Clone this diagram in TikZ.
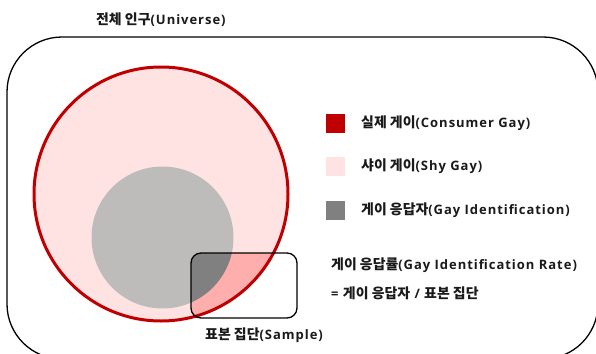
\documentclass[tikz,border=0pt]{standalone}
\usepackage{fontspec}
\setmainfont{Open Sans}[LetterSpace=7.5]
\newfontfamily\kr{Noto Sans CJK KR}[Scale=1.07]
\definecolor{cred}{HTML}{C00000}
\definecolor{cpink}{HTML}{FFE3E3}
\definecolor{cgray}{HTML}{BEBCBB}
\definecolor{cdgray}{HTML}{808080}
\definecolor{cmid}{HTML}{FFAEAE}
\definecolor{ctext}{HTML}{1A1A1A}
\tikzset{
  lbl/.style={anchor=west, inner sep=0pt, text=ctext, font=\bfseries\fontsize{13}{15}\selectfont},
  legsq/.style={minimum size=19pt, inner sep=0pt, draw=none},
}
\begin{document}
\begin{tikzpicture}[x=1pt, y=-1pt]
\useasboundingbox (0,0) rectangle (596,353);
% universe
\draw[line width=1.3pt, rounded corners=55pt] (7,37) rectangle (598,359);
\node[lbl] (univ) at (96,20) {{\kr 전체 인구}(Universe)};
% red circle (consumer gay)
\fill[cpink] (161,194) circle (127);
% gray circle (gay identification)
\fill[cgray] (162.5,237.5) circle (71);
% sample intersection
\begin{scope}
  \clip[rounded corners=10pt] (191,253) rectangle (297,318);
  \fill[cmid] (161,194) circle (127);
  \fill[cdgray] (162.5,237.5) circle (71);
\end{scope}
\draw[cred, line width=3pt] (161,194) circle (127);
\draw[line width=1.3pt, rounded corners=10pt] (191,253) rectangle (297,318);
\node[lbl] (samp) at (205,335) {{\kr 표본 집단}(Sample)};
% legend
\node[legsq, fill=cred] (sq1) at (335.5,123.5) {};
\node[legsq, fill=cpink] (sq2) at (335.5,166.5) {};
\node[legsq, fill=cdgray] (sq3) at (335.5,210) {};
\node[lbl] (t1) at (361,123.5) {{\kr 실제 게이}(Consumer Gay)};
\node[lbl] (t2) at (361,166.5) {{\kr 샤이 게이}(Shy Gay)};
\node[lbl] (t3) at (361,210) {{\kr 게이 응답자}(Gay Identification)};
\node[lbl] (r1) at (331,265) {{\kr 게이 응답률}(Gay Identification Rate)};
\node[lbl] (r2) at (331,293) {= {\kr 게이 응답자} / {\kr 표본 집단}};
\end{tikzpicture}
\end{document}
